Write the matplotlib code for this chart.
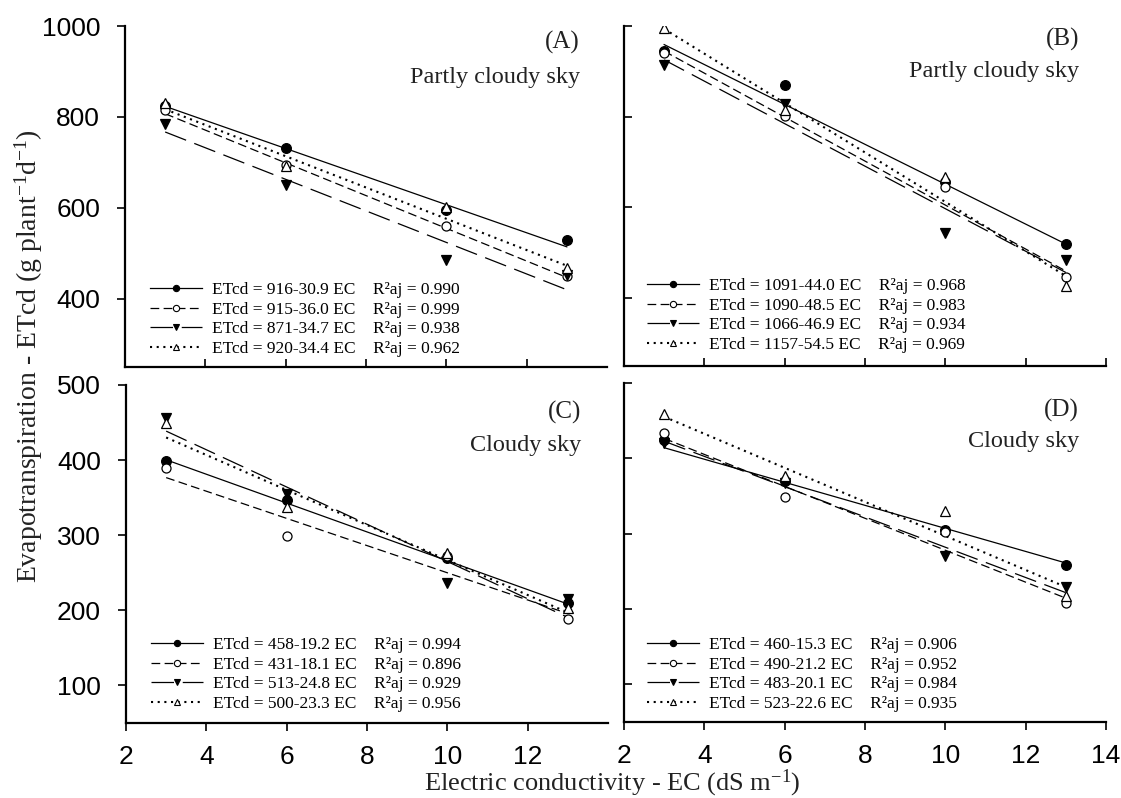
import matplotlib.pyplot as plt
from matplotlib.lines import Line2D
import numpy as np

plt.rcParams['mathtext.default'] = 'regular'

ec = [3, 6, 10, 13]

# panel A - partly cloudy sky
a_fill_circ = [825, 731, 596, 530]
a_open_circ = [815, 695, 560, 450]
a_fill_tri = [785, 651, 486, 453]
a_open_tri = [831, 691, 603, 468]
a_inter = [916, 915, 871, 920]
a_slope = [30.9, 36.0, 34.7, 34.4]
a_r2 = [0.990, 0.999, 0.938, 0.962]

# panel B - partly cloudy sky
b_fill_circ = [945, 870, 655, 519]
b_open_circ = [940, 802, 644, 446]
b_fill_tri = [913, 829, 543, 484]
b_open_tri = [995, 815, 667, 427]
b_inter = [1091, 1090, 1066, 1157]
b_slope = [44.0, 48.5, 46.9, 54.5]
b_r2 = [0.968, 0.983, 0.934, 0.969]

# panel C - cloudy sky
c_fill_circ = [399, 347, 270, 210]
c_open_circ = [390, 299, 273, 189]
c_fill_tri = [456, 355, 237, 215]
c_open_tri = [449, 338, 276, 203]
c_inter = [458, 431, 513, 500]
c_slope = [19.2, 18.1, 24.8, 23.3]
c_r2 = [0.994, 0.896, 0.929, 0.956]

# panel D - cloudy sky
d_fill_circ = [425, 370, 305, 258]
d_open_circ = [434, 349, 302, 208]
d_fill_tri = [420, 367, 271, 229]
d_open_tri = [459, 376, 330, 217]
d_inter = [460, 490, 483, 523]
d_slope = [15.3, 21.2, 20.1, 22.6]
d_r2 = [0.906, 0.952, 0.984, 0.935]

serif = 'Liberation Serif'
sans = 'Liberation Sans'

markers = ['o', 'o', 'v', '^']
faces = ['black', 'white', 'black', 'white']
sizes = [7, 6.5, 7.5, 7.5]
styles = ['-', (0, (7, 3.5)), (0, (18, 7)), (0, (1, 2.2))]
widths = [0.9, 0.9, 0.9, 1.5]


def panel(ax, series, inter, slope, r2, letter, sky_text, sky_y, letter_y, leg_xy):
    xl = np.array([ec[0], ec[-1]])
    handles = []
    labels = []
    for i in range(4):
        ax.plot(xl, inter[i] - slope[i] * xl, color='black', lw=widths[i],
                linestyle=styles[i], zorder=2)
    for i in range(4):
        ax.plot(ec, series[i], linestyle='none', marker=markers[i], ms=sizes[i],
                mfc=faces[i], mec='black', mew=0.9, zorder=3)
        handles.append(Line2D([], [], color='black', lw=widths[i], linestyle=styles[i],
                              marker=markers[i], ms=4.5, mfc=faces[i], mec='black', mew=0.8))
        labels.append('ETcd = %d-%.1f EC    R²aj = %.3f' % (inter[i], slope[i], r2[i]))
    ax.legend(handles, labels, loc='lower left', bbox_to_anchor=leg_xy, frameon=False,
              borderpad=0, borderaxespad=0, handlelength=3.0, handletextpad=0.55,
              labelspacing=0.2, numpoints=1, prop={'family': serif, 'size': 12.5})
    ax.text(0.944, letter_y, letter, transform=ax.transAxes, ha='right', va='center',
            family=serif, fontsize=18, color='#222222')
    ax.text(0.944, sky_y, sky_text, transform=ax.transAxes, ha='right', va='center',
            family=serif, fontsize=17.5, color='#222222')
    ax.spines['top'].set_visible(False)
    ax.spines['right'].set_visible(False)
    ax.spines['left'].set_linewidth(1.6)
    ax.spines['bottom'].set_linewidth(1.6)
    ax.set_xlim(2, 14)


fig = plt.figure(figsize=(11.21, 7.98), dpi=100)
w = 482 / 1121
axA = fig.add_axes([125 / 1121, 1 - 367 / 798, w, 341 / 798])
axB = fig.add_axes([624 / 1121, 1 - 366 / 798, w, 340 / 798])
axC = fig.add_axes([126 / 1121, 1 - 723 / 798, w, 338 / 798])
axD = fig.add_axes([624 / 1121, 1 - 722 / 798, w, 339 / 798])

panel(axA, [a_fill_circ, a_open_circ, a_fill_tri, a_open_tri], a_inter, a_slope, a_r2,
      '(A)', 'Partly cloudy sky', 0.85, 0.953, (0.052, 0.029))
panel(axB, [b_fill_circ, b_open_circ, b_fill_tri, b_open_tri], b_inter, b_slope, b_r2,
      '(B)', 'Partly cloudy sky', 0.865, 0.959, (0.048, 0.038))
panel(axC, [c_fill_circ, c_open_circ, c_fill_tri, c_open_tri], c_inter, c_slope, c_r2,
      '(C)', 'Cloudy sky', 0.822, 0.92, (0.052, 0.033))
panel(axD, [d_fill_circ, d_open_circ, d_fill_tri, d_open_tri], d_inter, d_slope, d_r2,
      '(D)', 'Cloudy sky', 0.826, 0.92, (0.048, 0.03))

axA.set_ylim(250, 1000)
axB.set_ylim(250, 1000)
axC.set_ylim(50, 500)
axD.set_ylim(50, 500)

axA.set_yticks([400, 600, 800, 1000])
axB.set_yticks([400, 600, 800, 1000])
axC.set_yticks([100, 200, 300, 400, 500])
axD.set_yticks([100, 200, 300, 400, 500])
axA.set_xticks([4, 6, 8, 10, 12])
axB.set_xticks([4, 6, 8, 10, 12, 14])
axC.set_xticks([2, 4, 6, 8, 10, 12])
axD.set_xticks([2, 4, 6, 8, 10, 12, 14])

axA.tick_params(axis='y', direction='out', length=6, width=1.2, pad=12, labelsize=19)
axC.tick_params(axis='y', direction='out', length=6, width=1.2, pad=12, labelsize=19)
axA.tick_params(axis='x', direction='in', length=6, width=1.2, labelbottom=False)
axB.tick_params(axis='both', direction='in', length=6, width=1.2,
                labelbottom=False, labelleft=False)
axD.tick_params(axis='y', direction='in', length=6, width=1.2, labelleft=False)
axC.tick_params(axis='x', direction='out', length=6, width=1.2, pad=10, labelsize=19)
axD.tick_params(axis='x', direction='out', length=6, width=1.2, pad=10, labelsize=19)
for ax in [axA, axB, axC, axD]:
    for t in ax.get_xticklabels() + ax.get_yticklabels():
        t.set_family(sans)

fig.text(0.026, 1 - 356 / 798,
         'Evapotranspiration - ETcd (g plant$^{-1}$d$^{-1}$)',
         rotation=90, ha='center', va='center', family=serif, fontsize=20, color='#222222')
fig.text(612 / 1121, 1 - 783 / 798, 'Electric conductivity - EC (dS m$^{-1}$)',
         ha='center', va='center', family=serif, fontsize=19, color='#222222')

fig.savefig('out.png', dpi=100)
